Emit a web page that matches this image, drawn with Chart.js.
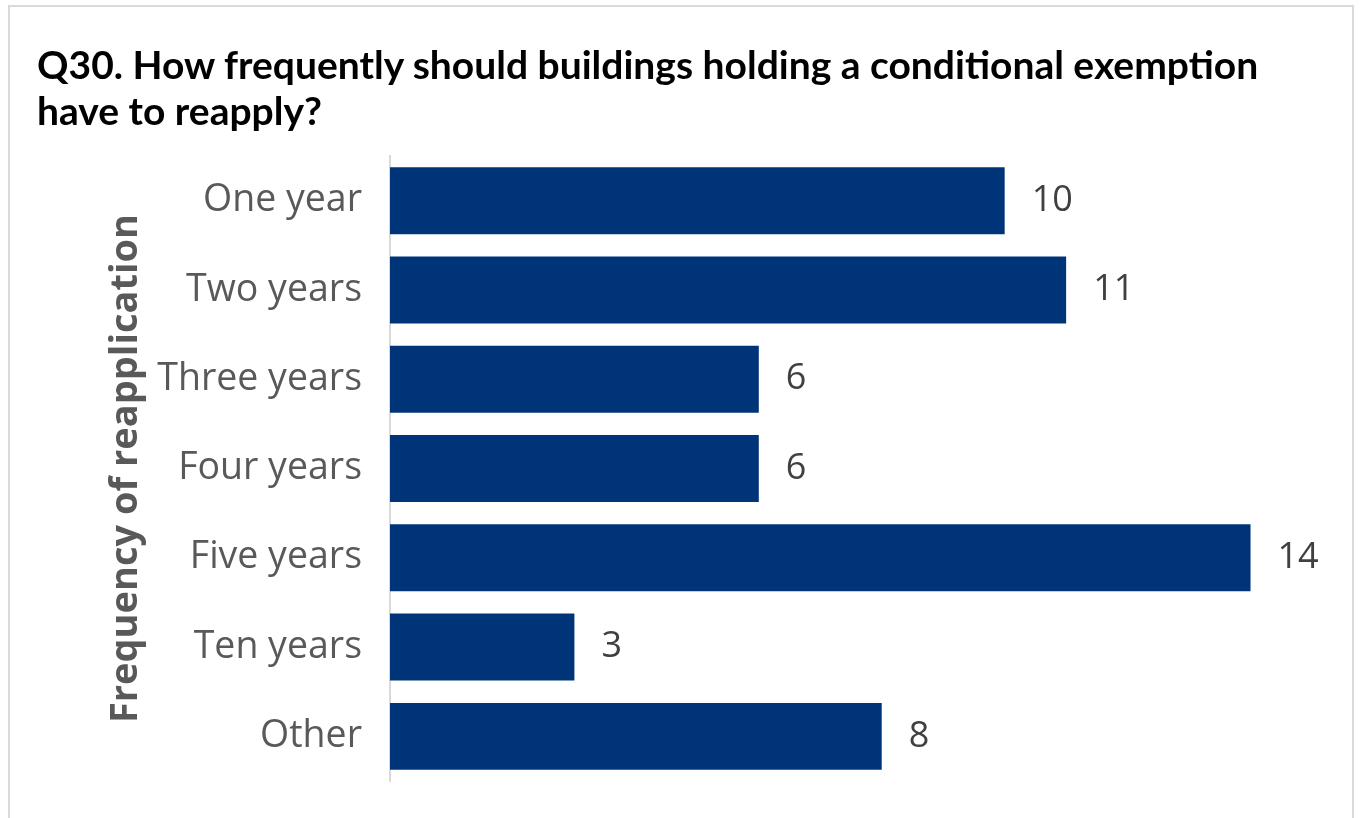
<!DOCTYPE html>
<html>
<head>
<meta charset="utf-8">
<script src="https://cdn.jsdelivr.net/npm/chart.js@4.4.1/dist/chart.umd.min.js"></script>
<style>
    body { margin: 0; background: #fff; }
    #marco {
        position: absolute; left: 8px; top: 5px; width: 1346px; height: 830px;
        border: 2px solid #d9d9d9; box-sizing: border-box; pointer-events: none;
    }
    #titulo {
        position: absolute; left: 37px; top: 41px;
        font: bold 39px Lato, sans-serif; line-height: 46px; color: #000;
    }
    #contenedor { position: absolute; left: 0; top: 0; width: 1362px; height: 818px; }
</style>
</head>
<body>
<div id="contenedor"><canvas id="grafico" width="1362" height="818"></canvas></div>
<div id="marco"></div>
<div id="titulo">Q30. How frequently should buildings holding a conditional exemption<br>have to reapply?</div>
<script>
const categorias = ['One year', 'Two years', 'Three years', 'Four years', 'Five years', 'Ten years', 'Other'];
const valores = [10, 11, 6, 6, 14, 3, 8];
const tituloEje = 'Frequency of reapplication';

const colorBarra = '#003478';
const colorTexto = '#595959';

// etiquetas de valor al final de cada barra
const etiquetasValor = {
    id: 'etiquetasValor',
    afterDatasetsDraw(chart) {
        const ctx = chart.ctx;
        const meta = chart.getDatasetMeta(0);
        ctx.save();
        ctx.font = '36px "Open Sans"';
        ctx.fillStyle = '#404040';
        ctx.textAlign = 'left';
        ctx.textBaseline = 'middle';
        meta.data.forEach(function (bar, i) {
            ctx.fillText(valores[i], bar.x + 27, bar.y);
        });
        ctx.restore();
    }
};

new Chart(document.getElementById('grafico'), {
    type: 'bar',
    plugins: [etiquetasValor],
    data: {
        labels: categorias,
        datasets: [{
            data: valores,
            backgroundColor: colorBarra,
            borderWidth: 0,
            categoryPercentage: 1,
            barPercentage: 0.75
        }]
    },
    options: {
        indexAxis: 'y',
        responsive: false,
        animation: false,
        layout: { padding: { left: 103, right: 50, top: 156, bottom: 37 } },
        plugins: {
            legend: { display: false },
            tooltip: { enabled: false }
        },
        scales: {
            x: {
                display: false,
                min: 0,
                max: 15
            },
            y: {
                afterFit: function (scale) {
                    scale.width = 390 - 103;
                    scale.paddingTop = 0;
                    scale.paddingBottom = 0;
                },
                grid: { display: false, drawTicks: false },
                border: { display: true, color: '#d9d9d9', width: 2 },
                ticks: {
                    color: colorTexto,
                    padding: 28,
                    font: { family: 'Open Sans', size: 37.5 }
                },
                title: {
                    display: true,
                    text: tituloEje,
                    color: colorTexto,
                    padding: 0,
                    font: { family: 'Open Sans', size: 38, weight: 'bold' }
                }
            }
        }
    }
});
</script>
</body>
</html>
